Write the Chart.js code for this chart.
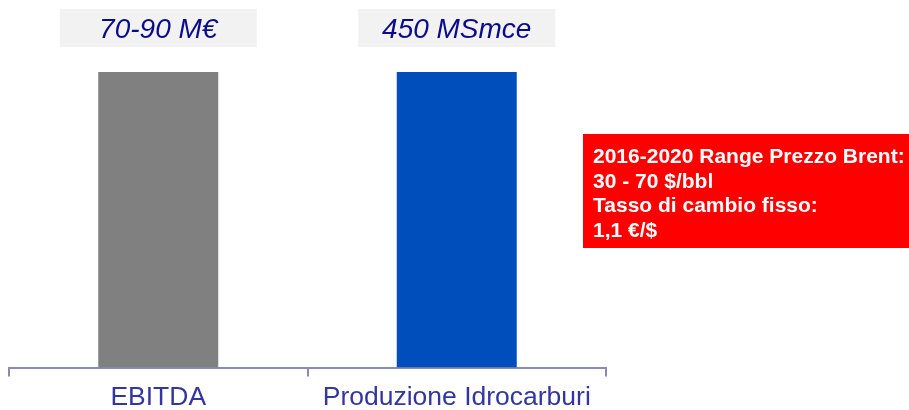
<!DOCTYPE html>
<html>
<head>
<meta charset="utf-8">
<script src="https://cdn.jsdelivr.net/npm/chart.js@4/dist/chart.umd.min.js"></script>
<style>
  html, body { margin: 0; padding: 0; background: #fff; }
  #wrap { width: 909px; height: 410px; position: relative; }
</style>
</head>
<body>
<div id="wrap"><canvas id="canvas"></canvas></div>
<script>
const categories = ['EBITDA', 'Produzione Idrocarburi'];
const barValues = [100, 100];
const valueLabels = ['70-90 M€', '450 MSmce'];
const barColors = ['#808080', '#004EBC'];
const noteLines = ['2016-2020 Range Prezzo Brent:', '30 - 70 $/bbl', 'Tasso di cambio fisso:', '1,1 €/$'];

const axisColor = '#8A8AB4';

// grey boxes with the figures above each bar
const valueBoxes = {
    id: 'valueBoxes',
    afterDatasetsDraw(chart) {
        const ctx = chart.ctx;
        const meta = chart.getDatasetMeta(0);
        ctx.save();
        meta.data.forEach((bar, i) => {
            ctx.fillStyle = '#F2F2F2';
            ctx.fillRect(bar.x - 98.5, 9, 197, 38);
            ctx.fillStyle = '#0C0C8A';
            ctx.font = 'italic 28px "Liberation Sans", Arial, sans-serif';
            ctx.textAlign = 'center';
            ctx.textBaseline = 'alphabetic';
            ctx.fillText(valueLabels[i], bar.x, 38);
        });
        ctx.restore();
    }
};

// red note on the right
const noteBox = {
    id: 'noteBox',
    afterDraw(chart) {
        const ctx = chart.ctx;
        ctx.save();
        ctx.fillStyle = '#FF0000';
        ctx.fillRect(583, 134, 330, 114);
        ctx.fillStyle = '#FFFFFF';
        ctx.font = 'bold 21px "Liberation Sans", Arial, sans-serif';
        ctx.textAlign = 'left';
        ctx.textBaseline = 'alphabetic';
        noteLines.forEach((t, i) => {
            ctx.fillText(t, 593, 163 + i * 24.7);
        });
        ctx.restore();
    }
};

const ctx = document.getElementById('canvas').getContext('2d');
const myChart = new Chart(ctx, {
    type: 'bar',
    data: {
        labels: categories,
        datasets: [{
            data: barValues,
            backgroundColor: barColors,
            borderWidth: 0,
            categoryPercentage: 1,
            barPercentage: 0.402
        }]
    },
    options: {
        responsive: true,
        maintainAspectRatio: false,
        animation: false,
        layout: { padding: { top: 72, left: 9, right: 303, bottom: -9 } },
        plugins: {
            legend: { display: false },
            tooltip: { enabled: false }
        },
        scales: {
            x: {
                offset: true,
                grid: {
                    offset: true,
                    drawOnChartArea: false,
                    drawTicks: true,
                    tickLength: 9,
                    color: axisColor,
                    lineWidth: 2
                },
                border: { display: true, color: axisColor, width: 2 },
                ticks: {
                    padding: 8,
                    color: '#3535A0',
                    font: { family: '"Liberation Sans", Arial, sans-serif', size: 26.5, lineHeight: 1 }
                }
            },
            y: {
                display: false,
                min: 0,
                max: 100
            }
        }
    },
    plugins: [valueBoxes, noteBox]
});
</script>
</body>
</html>
